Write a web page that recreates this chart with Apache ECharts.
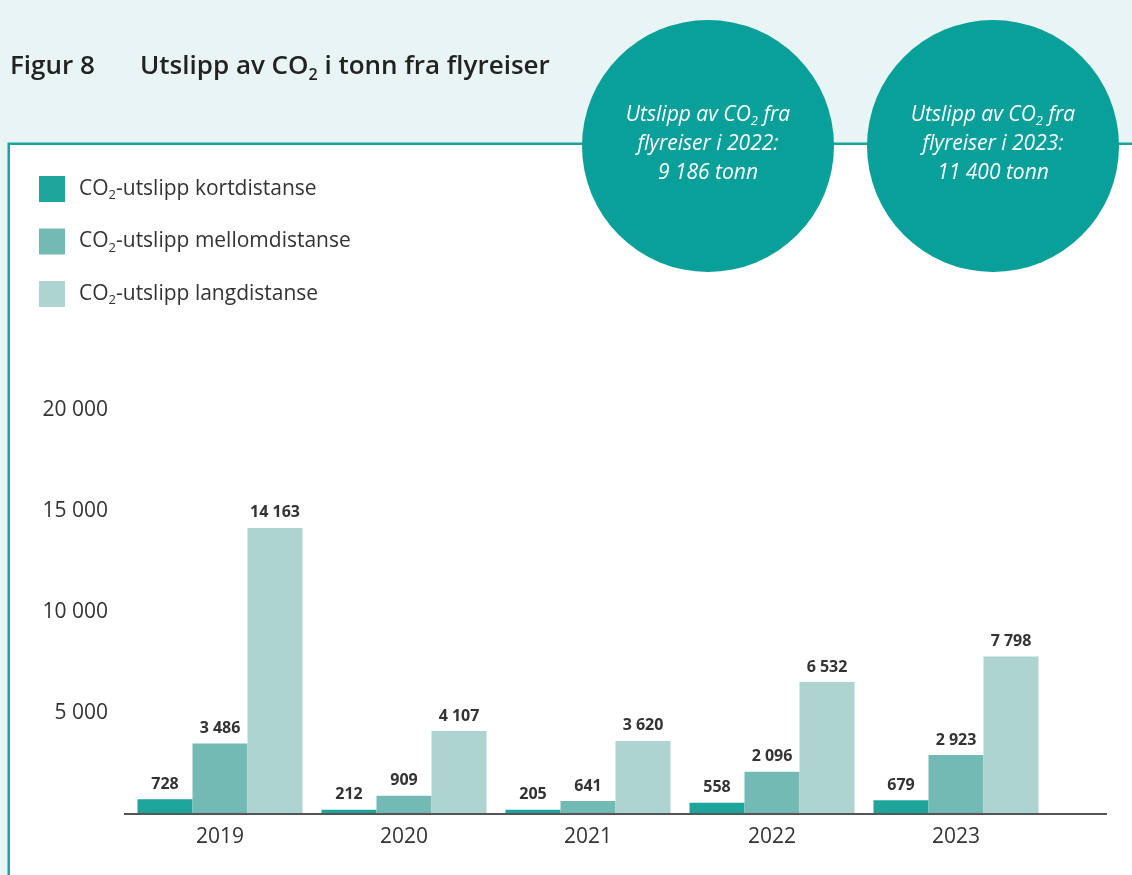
<!DOCTYPE html>
<html><head><meta charset="utf-8">
<script src="https://cdn.jsdelivr.net/npm/echarts@6/dist/echarts.min.js"></script>
<style>html,body{margin:0;padding:0;background:#e9f5f5;}#c{width:1132px;height:875px;}</style>
</head><body><div id="c"></div>
<script>
const categories = ['2019', '2020', '2021', '2022', '2023'];
const kortdistanse = [728, 212, 205, 558, 679];
const mellomdistanse = [3486, 909, 641, 2096, 2923];
const langdistanse = [14163, 4107, 3620, 6532, 7798];
const seriesNames = ['CO2-utslipp kortdistanse', 'CO2-utslipp mellomdistanse', 'CO2-utslipp langdistanse'];
const yMin = 0, yMax = 20000, yStep = 5000;
const circleYears = ['2022', '2023'];
const circleTotals = [9186, 11400];
const titleNumber = 'Figur 8';
const titleText = 'Utslipp av CO2 i tonn fra flyreiser';

const FONT = '"Open Sans", "Noto Sans", sans-serif';
const colors = ['#1da59b', '#72bab3', '#aed4d2'];
const teal = '#08a098';

function fmt(v) { return String(v).replace(/\B(?=(\d{3})+(?!\d))/g, ' '); }
function co2Rich(s, tok) { return s.split('CO2').map(p => '{' + tok + '|' + p + '}').join('{' + tok + '|CO}{s|2}').replace(new RegExp('\\{' + tok + '\\|\\}', 'g'), ''); }

const chart = echarts.init(document.getElementById('c'), null, { renderer: 'canvas' });

const circleGraphics = [];
const circleX = [708, 993];
circleYears.forEach((yr, i) => {
  circleGraphics.push({
    type: 'circle', z: 50,
    shape: { cx: circleX[i], cy: 146, r: 126 },
    style: { fill: teal }
  });
  circleGraphics.push({
    type: 'text', z: 51,
    style: {
      x: circleX[i], y: 144, align: 'center', verticalAlign: 'middle',
      text: co2Rich('Utslipp av CO2 fra', 'a') + '\n{a|flyreiser i ' + yr + ':}\n{a|' + fmt(circleTotals[i]) + ' tonn}',
      rich: {
        a: { fontFamily: FONT, fontSize: 21, fontStyle: 'italic', fill: '#ffffff', lineHeight: 29 },
        s: { fontFamily: FONT, fontSize: 13, fontStyle: 'italic', fill: '#ffffff', lineHeight: 13, verticalAlign: 'bottom', padding: [0, 0, 2, 0] }
      }
    }
  });
});

const option = {
  animation: false,
  backgroundColor: '#e9f5f5',
  color: colors,
  textStyle: { fontFamily: FONT },
  grid: { left: 128, right: 84, top: 410, bottom: 61, containLabel: false },
  legend: {
    orient: 'vertical', left: 39, top: 176, padding: 0,
    itemWidth: 26, itemHeight: 26, itemGap: 26.5, icon: 'rect',
    selectedMode: false,
    data: seriesNames,
    formatter: name => co2Rich(name, 'a'),
    textStyle: {
      padding: [0, 0, 0, 9],
      rich: {
        a: { fontFamily: FONT, fontSize: 21, color: '#333', lineHeight: 26 },
        s: { fontFamily: FONT, fontSize: 13, color: '#333', lineHeight: 13, verticalAlign: 'bottom' }
      }
    }
  },
  xAxis: {
    type: 'category', data: categories,
    axisLine: { show: false }, axisTick: { show: false },
    axisLabel: { fontFamily: FONT, fontSize: 21, color: '#333', margin: 13 }
  },
  yAxis: {
    type: 'value', min: yMin, max: yMax, interval: yStep,
    splitLine: { show: false }, axisLine: { show: false }, axisTick: { show: false },
    axisLabel: { fontFamily: FONT, fontSize: 21, color: '#333', margin: 20, formatter: v => v === 0 ? '' : fmt(v) }
  },
  series: [kortdistanse, mellomdistanse, langdistanse].map((d, i) => ({
    type: 'bar', name: seriesNames[i], data: d,
    barWidth: 55, barGap: '0%',
    itemStyle: { color: colors[i] },
    label: { show: true, position: 'top', distance: 7, fontFamily: FONT, fontSize: 16, fontWeight: 'bold', color: '#333', formatter: p => fmt(p.value) }
  })),
  graphic: []
};
chart.setOption(option);

const y0 = chart.convertToPixel({ yAxisIndex: 0 }, 0);
chart.setOption({
  graphic: [
    { type: 'rect', z: -100, shape: { x: 8.75, y: 143.75, width: 1200, height: 900 }, style: { fill: '#ffffff', stroke: '#1aa59b', lineWidth: 2.5 } },
    { type: 'line', z: 10, shape: { x1: 124, y1: y0, x2: 1107, y2: y0 }, style: { stroke: '#555', lineWidth: 2 } },
    {
      type: 'text', z: 51,
      style: { x: 10, y: 67, verticalAlign: 'middle', text: '{b|' + titleNumber + '}', rich: { b: { fontFamily: FONT, fontSize: 26, fontWeight: 600, fill: '#222', lineHeight: 32 } } }
    },
    {
      type: 'text', z: 51,
      style: {
        x: 140, y: 67, verticalAlign: 'middle', text: co2Rich(titleText, 'b'),
        rich: {
          b: { fontFamily: FONT, fontSize: 26, fontWeight: 600, fill: '#222', lineHeight: 32 },
          s: { fontFamily: FONT, fontSize: 16, fontWeight: 600, fill: '#222', lineHeight: 16, verticalAlign: 'bottom' }
        }
      }
    }
  ].concat(circleGraphics)
});
</script></body></html>
